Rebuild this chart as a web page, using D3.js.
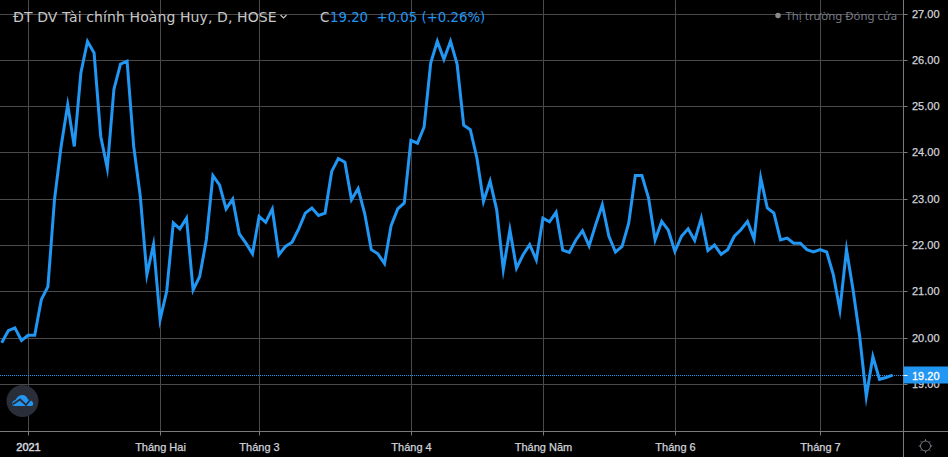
<!DOCTYPE html>
<html><head><meta charset="utf-8">
<script src="https://cdn.jsdelivr.net/npm/d3@7"></script>
<style>
html,body{margin:0;padding:0;background:#000;overflow:hidden}
svg{display:block}
text{font-family:"Liberation Sans",Arial,sans-serif}
</style></head><body>
<svg id="c" width="948" height="457"></svg>
<script>
const closePrices=[19.90,20.16,20.22,19.95,20.06,20.06,20.83,21.11,22.99,24.14,25.04,24.14,25.73,26.41,26.16,24.36,23.67,25.37,25.92,25.98,
24.14,23.06,21.37,22.02,20.40,21.01,22.49,22.36,22.59,21.04,21.33,22.12,23.51,23.31,22.79,23.00,22.25,22.05,21.82,22.63,
22.50,22.79,21.80,21.98,22.07,22.36,22.70,22.81,22.65,22.70,23.60,23.88,23.80,22.99,23.23,22.69,21.91,21.82,21.61,22.43,
22.79,22.92,24.27,24.21,24.56,25.94,26.41,26.02,26.41,25.92,24.60,24.50,23.89,22.95,23.39,22.77,21.48,22.34,21.51,21.80,
22.02,21.69,22.59,22.51,22.72,21.90,21.85,22.12,22.32,21.99,22.45,22.88,22.20,21.86,21.98,22.48,23.51,23.51,23.03,22.12,
22.52,22.33,21.87,22.20,22.36,22.11,22.59,21.89,22.01,21.81,21.91,22.20,22.34,22.52,22.14,23.46,22.81,22.70,22.12,22.16,
22.05,22.05,21.91,21.86,21.91,21.86,21.37,20.61,21.91,21.04,20.03,18.74,19.60,19.11,19.15,19.20];
const priceTicks=[27,26,25,24,23,22,21,20,19];
const timeTickIndex=[4,24,39,62,82,102,124];
const timeTickLabels=["2021","Tháng Hai","Tháng 3","Tháng 4","Tháng Năm","Tháng 6","Tháng 7"];
const lastPrice=19.20;
const titleText="ĐT DV Tài chính Hoàng Huy, D, HOSE";
const legendValues="19.20  +0.05 (+0.26%)";
const statusText="Thị trường Đóng cửa";

const W=948,H=457,axisX=903.5,axisY=431.5;
const BLUE="#2196f3",GRID="#4a4a4a",AXIS="#787b7e",LABEL="#d1d4dc";
const snap=v=>Math.floor(v)+.5;
const x=d3.scaleLinear().domain([0,135]).range([1.7,1.7+6.6*135]);
const y=d3.scaleLinear().domain([27,19]).range([14,384.4]);
const svg=d3.select("#c");
svg.append("rect").attr("width",W).attr("height",H).attr("fill","#000");

// grid
svg.append("g").selectAll("line").data(priceTicks).join("line")
 .attr("x1",0).attr("x2",axisX).attr("y1",d=>snap(y(d))).attr("y2",d=>snap(y(d)))
 .attr("stroke",GRID);
svg.append("g").selectAll("line").data(timeTickIndex).join("line")
 .attr("x1",d=>snap(x(d)+.2)).attr("x2",d=>snap(x(d)+.2)).attr("y1",0).attr("y2",axisY)
 .attr("stroke",GRID);

// axes
const yAxis=d3.axisRight(y).tickValues(priceTicks).tickFormat(d3.format(".2f")).tickSize(4).tickPadding(4.5);
const gy=svg.append("g").attr("transform",`translate(${axisX},0)`).call(yAxis);
gy.selectAll(".tick").attr("transform",d=>`translate(0,${snap(y(d))})`);
const xAxis=d3.axisBottom(x).tickValues(timeTickIndex).tickFormat((d,i)=>timeTickLabels[i]).tickSize(4).tickPadding(8);
const gx=svg.append("g").attr("transform",`translate(0,${axisY})`).call(xAxis);
gx.selectAll(".tick").attr("transform",d=>`translate(${snap(x(d)+.2)},0)`);
[gy,gx].forEach(g=>{
  g.select(".domain").remove();
  g.selectAll("line").attr("stroke",AXIS);
  g.selectAll("text").attr("fill",LABEL).attr("font-size",11).attr("font-weight",400)
   .attr("stroke",LABEL).attr("stroke-width",.25)
   .style("font-family",'"Liberation Sans",Arial,sans-serif');
});
gx.selectAll(".tick text").filter((d,i)=>i===0).attr("stroke-width",.5);
svg.append("line").attr("x1",axisX).attr("x2",axisX).attr("y1",0).attr("y2",H).attr("stroke",AXIS);
svg.append("line").attr("x1",0).attr("x2",W).attr("y1",axisY).attr("y2",axisY).attr("stroke",AXIS);

// series
const line=d3.line().x((d,i)=>x(i)).y(d=>y(d));
svg.append("path").datum(closePrices).attr("d",line).attr("fill","none")
 .attr("stroke",BLUE).attr("stroke-width",3).attr("stroke-linejoin","miter").attr("stroke-miterlimit",8);

// last price line and tag
const ly=snap(y(lastPrice));
svg.append("line").attr("x1",0).attr("x2",axisX).attr("y1",ly).attr("y2",ly)
 .attr("stroke",BLUE).attr("stroke-dasharray","1 1");
svg.append("rect").attr("x",axisX).attr("y",366.5).attr("width",W-axisX).attr("height",17).attr("fill",BLUE);
svg.append("line").attr("x1",axisX).attr("x2",axisX+4).attr("y1",ly).attr("y2",ly).attr("stroke","#fff");
svg.append("text").attr("x",axisX+8.5).attr("y",ly+4).attr("fill","#fff").attr("stroke","#fff").attr("stroke-width",.3).attr("font-size",11).text(d3.format(".2f")(lastPrice));

// legend
const L='"DejaVu Sans",sans-serif';
svg.append("text").attr("x",13).attr("y",22).attr("fill","#c8c8c8").attr("font-size",14).attr("letter-spacing",.1).style("font-family",L).text(titleText);
svg.append("path").attr("d","M280.5 15l3 3 3-3").attr("fill","none").attr("stroke","#c8c8c8").attr("stroke-width",1.1);
svg.append("text").attr("x",320).attr("y",22).attr("fill","#c8c8c8").attr("font-size",13.4).style("font-family",L).text("C");
svg.append("text").attr("x",330).attr("y",22).attr("fill",BLUE).attr("font-size",13.3).style("font-family",L).style("white-space","pre").text(legendValues);
svg.append("circle").attr("cx",778).attr("cy",15.5).attr("r",2.7).attr("fill","#8a8a8a");
svg.append("text").attr("x",785.5).attr("y",20).attr("fill","#787b86").attr("font-size",11.4).style("font-family",'"Noto Sans",sans-serif').text(statusText);

// logo
svg.append("circle").attr("cx",22.5).attr("cy",401).attr("r",16).attr("fill","#2a2e39");
svg.append("path").attr("fill",BLUE).attr("d","M12 404 Q12.5 400.5 15.5 400 Q18 395 22.5 395 Q26.5 395.2 28 399.5 Q33 400 33.3 404 Q33 406 31.5 406 L14 406 Q12.3 406 12 404 Z");
svg.append("path").attr("fill","none").attr("stroke","#2a2e39").attr("stroke-width",1.8).attr("d","M12.5 404.5 L20 399.5 L26 405 L31 399");

// settings
const gear=svg.append("g").attr("transform","translate(925.5,446)").attr("stroke","#787b86").attr("fill","none");
gear.append("circle").attr("r",5);
d3.range(8).forEach(i=>{const a=i*Math.PI/4;gear.append("line").attr("x1",5*Math.cos(a)).attr("y1",5*Math.sin(a)).attr("x2",6.8*Math.cos(a)).attr("y2",6.8*Math.sin(a));});
</script></body></html>
